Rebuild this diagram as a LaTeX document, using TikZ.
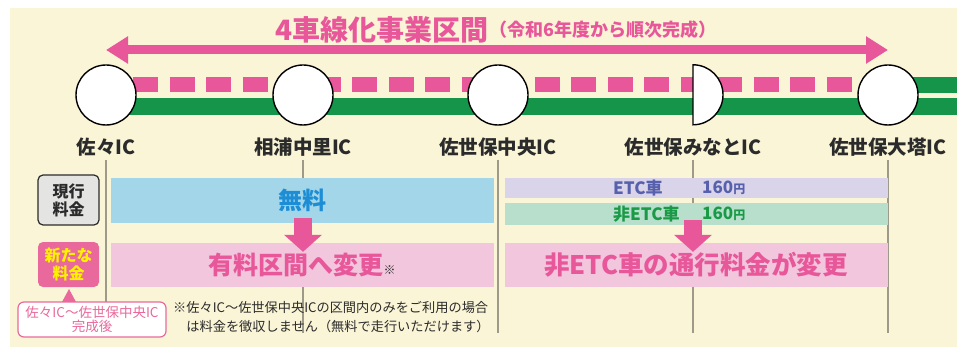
\documentclass[tikz,border=0pt]{standalone}
\usepackage{fontspec}
\setmainfont{Noto Sans CJK JP}
\usetikzlibrary{arrows.meta,positioning}

\definecolor{cream}{HTML}{FAF5D6}
\definecolor{mainpink}{HTML}{E8579A}
\definecolor{roadgreen}{HTML}{15954A}
\definecolor{barblue}{HTML}{A4D6E9}
\definecolor{textblue}{HTML}{1D8ED5}
\definecolor{barpink}{HTML}{F2C6DD}
\definecolor{barlilac}{HTML}{D9D4EA}
\definecolor{textlilac}{HTML}{5760AC}
\definecolor{barmint}{HTML}{B7DFCB}
\definecolor{textgreen}{HTML}{1A9A47}
\definecolor{boxpink}{HTML}{E9699C}
\definecolor{boxgray}{HTML}{E4E4E2}
\definecolor{newyellow}{HTML}{FFF200}
\definecolor{labelgray}{HTML}{2B2B2B}
\definecolor{sepgray}{HTML}{9E9A8A}

\begin{document}
\begin{tikzpicture}[x=1pt, y=-1pt,
    ic/.style={circle, draw=black, line width=1.4pt, fill=white,
        minimum size=60pt, inner sep=0pt},
    icslot/.style={circle, minimum size=60pt, inner sep=0pt},
    iclabel/.style={font=\bfseries\fontsize{19.5}{22}\selectfont,
        text=labelgray, inner sep=0pt},
    bar/.style={rectangle, minimum width=383pt, inner sep=0pt},
    farebox/.style={rectangle, rounded corners=5pt, minimum width=61pt,
        align=center, inner sep=0pt, font=\bfseries\fontsize{16}{18}\selectfont},
    rowtext/.style={anchor=west, inner sep=0pt,
        font=\bfseries\fontsize{17}{18}\selectfont},
    sep/.style={sepgray, line width=1.2pt},
    downarrow/.style={mainpink, line width=18pt,
        -{Triangle[width=37pt, length=17pt]}}
]
\useasboundingbox (0,0) rectangle (965,347);
\fill[cream] (10,8) rectangle (957,347);

\node (Title) [anchor=east, text=mainpink, inner sep=0pt,
    font=\bfseries\fontsize{28}{30}\selectfont] at (489,30) {4車線化事業区間};
\node (Period) [right=0pt of Title, text=mainpink, inner sep=0pt,
    font=\bfseries\fontsize{18}{20}\selectfont] {（令和6年度から順次完成）};

\draw[roadgreen, line width=17pt] (106,107) -- (957,107);
\draw[roadgreen, line width=16pt] (888,85) -- (957,85);
\draw[mainpink, line width=15pt, dash pattern=on 25pt off 11.5pt,
    dash phase=9.5pt] (106,85) -- (888,85);

\foreach \n/\x in {1/106, 2/303, 3/498, 5/888}
  \node (IC\n) [ic] at (\x,95) {};
\node (IC4) [icslot] at (693,95) {};
\draw[line width=1.4pt, fill=white] (IC4.north)
  arc[start angle=90, end angle=-90, radius=30pt] -- cycle;

\foreach \n/\txt in {1/佐々IC, 2/相浦中里IC, 3/佐世保中央IC,
    4/佐世保みなとIC, 5/佐世保大塔IC}
  \node (Label\n) [iclabel, below=12pt of IC\n] {\txt};

\foreach \n in {1,...,5}
  \draw[sep] (IC\n |- 0,160) -- (IC\n |- 0,333);

\draw[mainpink, line width=9pt,
    {Triangle[width=26pt, length=22pt]}-{Triangle[width=26pt, length=22pt]}]
  (IC1 |- 0,50) -- (IC5 |- 0,50);

\node (Free) [bar, fill=barblue, minimum height=45pt, text=textblue,
    font=\bfseries\fontsize{24}{26}\selectfont] at (302,200.5) {無料};
\node (Toll) [bar, fill=barpink, minimum height=44pt, text=mainpink,
    font=\bfseries\fontsize{25}{27}\selectfont] at (302,265)
  {有料区間へ変更{\color{labelgray}\fontsize{12}{12}\selectfont ※}};
\node (ETC) [bar, fill=barlilac, minimum height=20pt] at (696,188) {};
\node (NonETC) [bar, fill=barmint, minimum height=22pt] at (696,214) {};
\node (Change) [bar, fill=barpink, minimum height=44pt, text=mainpink,
    font=\bfseries\fontsize{25.5}{27}\selectfont] at (696,265)
  {非ETC車の通行料金が変更};

\node (ETCName) [rowtext, text=textlilac] at (613,188) {ETC車};
\node (ETCFee) [rowtext, text=textlilac] at (702,188)
  {160{\fontsize{12}{12}\selectfont 円}};
\node (NonETCName) [rowtext, text=textgreen] at (613,214) {非ETC車};
\node (NonETCFee) [rowtext, text=textgreen] at (702,214)
  {160{\fontsize{12}{12}\selectfont 円}};

\draw[downarrow] ([yshift=5pt]IC2 |- Free.south) -- ([yshift=-9pt]IC2 |- Toll.north);
\draw[downarrow] ([yshift=5pt]IC4 |- NonETC.south) -- ([yshift=-9pt]IC4 |- Change.north);

\node (Current) [farebox, draw=labelgray, line width=1.2pt, fill=boxgray,
    minimum height=50pt, text=labelgray] at (68.5,200) {現行\\料金};
\node (New) [farebox, fill=boxpink, minimum height=45pt, text=newyellow]
  at (68.5,264.5) {新たな\\料金};

\fill[boxpink] (69,289) -- (76,302) -- (62,302) -- cycle;
\node (Done) [rectangle, rounded corners=6pt, draw=boxpink, line width=1.2pt,
    fill=white, minimum width=148pt, minimum height=35pt, align=center,
    text=boxpink, inner sep=0pt, font=\fontsize{13.5}{14}\selectfont]
  at (92,319.5) {佐々IC〜佐世保中央IC\\完成後};

\node (Note) [anchor=north west, align=left, text=labelgray, inner sep=0pt,
    font=\fontsize{13.2}{19}\selectfont] at (173,301)
  {※佐々IC〜佐世保中央ICの区間内のみをご利用の場合\\
   \hspace{1em}は料金を徴収しません（無料で走行いただけます）};
\end{tikzpicture}
\end{document}
